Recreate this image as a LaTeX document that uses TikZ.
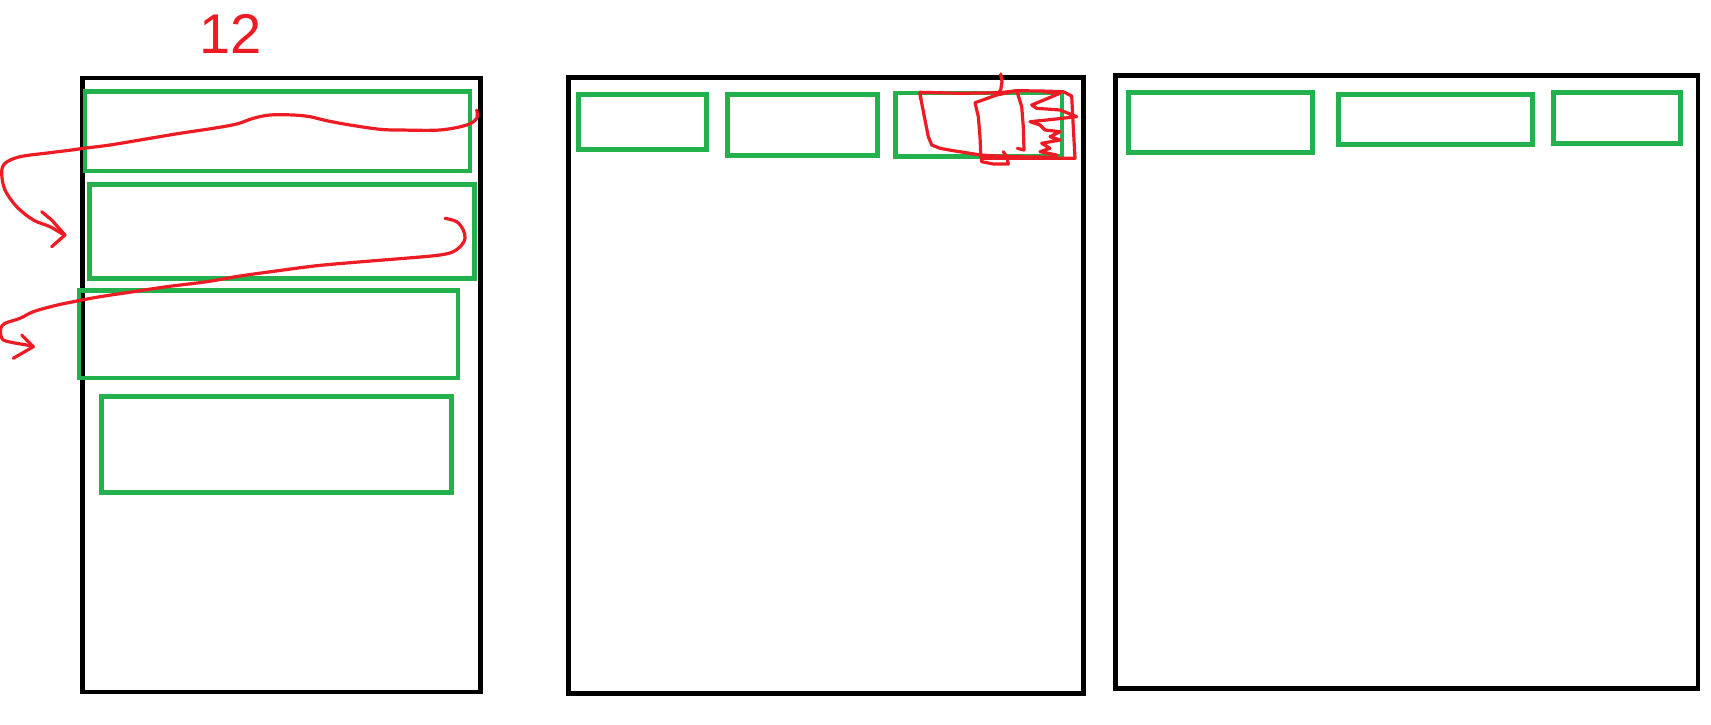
\documentclass[tikz,border=0pt]{standalone}
\usepackage{fontspec}
\setmainfont{Liberation Sans}
\usetikzlibrary{fit}
\definecolor{pgreen}{RGB}{34,177,76}
\definecolor{pred}{RGB}{237,28,36}
\begin{document}
\begin{tikzpicture}[x=0.5pt,y=-0.5pt,
  frame/.style={draw=black,line width=2.2pt,inner sep=0pt,line join=miter},
  gbox/.style={draw=pgreen,line width=2.3pt,inner sep=0pt,line join=miter},
  scribble/.style={draw=pred,line width=1.6pt,line cap=round,line join=round}]
\useasboundingbox (0,0) rectangle (1711,724);

% pages
\node[frame, fit={(82.5,78) (480.5,692)}] (pageA) {};
\node[frame, fit={(568.3,77.3) (1083.3,693.3)}] (pageB) {};
\node[frame, fit={(1115.6,75.5) (1698.2,688.3)}] (pageC) {};

% green blocks, page A
\node[gbox, fit={(85,91.5) (470,171)}] (a1) {};
\node[gbox, fit={(89.5,184.5) (474.5,278.5)}] (a2) {};
\node[gbox, fit={(79,290.5) (458,378)}] (a3) {};
\node[gbox, fit={(101.5,396.5) (451.5,492.5)}] (a4) {};

% green blocks, page B
\node[gbox, fit={(578.5,94.7) (706.5,149.5)}] (b1) {};
\node[gbox, fit={(727.5,94.7) (877.5,155.5)}] (b2) {};
\node[gbox, fit={(895.5,92.8) (1062,156.3)}] (b3) {};

% green blocks, page C
\node[gbox, fit={(1128.5,92.5) (1312.5,152.3)}] (c1) {};
\node[gbox, fit={(1338.3,94.7) (1532.7,144.3)}] (c2) {};
\node[gbox, fit={(1553.7,92.3) (1680.3,143.3)}] (c3) {};

% label
\node[text=pred, inner sep=0pt, font=\fontsize{28}{30}\selectfont] (num) at (230.5,34) {12};

% red flow scribbles, page A
\draw[scribble] plot[smooth, tension=0.55] coordinates {
  (476.7,110) (476.7,118.3) (466.7,125) (440,130) (400,130) (380,129.3)
  (350,125) (326.7,120.7) (310,116.7) (293.3,115) (270,115) (253.3,118.3)
  (236.7,124) (213.3,128.3) (180,133.3) (150,138.3) (110,145) (83.3,148.3)
  (71.7,150) (50,152.7) (20,156.7) (5,163.3) (1.7,173.3) (5,190)
  (16.7,206.7) (33.3,220) (50,226.7) (64,235)};
\draw[scribble] (41.7,211.7) -- (51.7,220) -- (65,235) -- (51.7,246.7);

\draw[scribble] plot[smooth, tension=0.55] coordinates {
  (445,218.3) (456.7,221.7) (463.3,230) (465,238.3) (461.7,245) (453.3,251.7)
  (440,255) (416.7,257.3) (383.3,260) (350,262.7) (316.7,265.7) (283.3,270)
  (240,276) (206.7,281.7) (166.7,286.7) (133.3,291.7) (100,296.7) (73.3,301.7)
  (53.3,306) (33.3,311.7) (20,318.3) (5,323.3) (0.8,328.3) (0.8,335)
  (3.3,340) (13.3,342.7) (26.7,345) (33.3,346.7)};
\draw[scribble] (21.7,335) -- (33.3,346.7) -- (13.3,358.3);

% red scribble over block b3
\draw[scribble] (1000.7,74) -- (1002,81.7) -- (1000.7,90) -- (998.3,92.7);
\draw[scribble] (920.5,99) -- (920,92.3) -- (960,93.3) -- (1000,92.7)
  -- (1016.7,90.7) -- (1041.7,91) -- (1063.3,91.7) -- (1071.7,96)
  -- (1072.7,116.7) -- (1074,140) -- (1075,158.3) -- (1056.7,158.3)
  -- (1010,158.3) -- (981.7,158.3);
\draw[scribble] (920,93.3) -- (921.7,103.3) -- (925,120) -- (928.3,136.7)
  -- (931.7,145) -- (940,148.3) -- (953.3,150.7) -- (970,153.3) -- (980,155)
  -- (1010,156.7) -- (1056.7,157.3);
\draw[scribble] (1016.7,90.7) -- (996.7,95) -- (975,102.7) -- (978.3,116.7)
  -- (980,136.7) -- (980.7,153.3) -- (981.7,161.7) -- (993.3,164)
  -- (1008.3,164) -- (1006.7,156.7) -- (1003.3,151.7);
\draw[scribble] (1016.7,90.7) -- (1021.7,106.7) -- (1023.3,126.7)
  -- (1024,150) -- (1017.3,148.3);
\draw[scribble] (1043.3,91.7) -- (1060,93.3) -- (1031.7,105) -- (1036.7,108.3)
  -- (1060,110) -- (1076.7,116.7) -- (1053.3,119.3) -- (1030,121.7)
  -- (1040,125) -- (1045,130) -- (1060,131.7) -- (1050,136.7) -- (1060,140)
  -- (1041.7,143.3) -- (1050,148.3) -- (1040,151.7) -- (1056.7,155);
\end{tikzpicture}
\end{document}
